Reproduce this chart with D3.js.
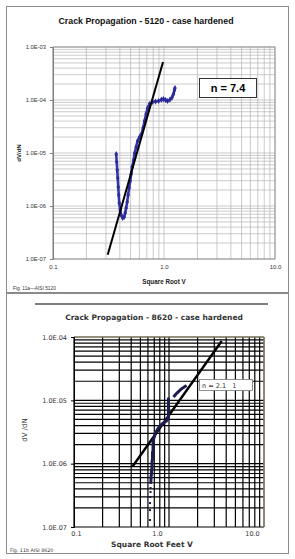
<!DOCTYPE html>
<html><head><meta charset="utf-8">
<script src="https://cdn.jsdelivr.net/npm/d3@7"></script>
<style>body{margin:0;background:#fff}svg{display:block}</style>
</head><body>
<svg id="c" width="295" height="559"></svg>
<script>
// ---------- data: top chart (AISI 5120) ----------
const topTitle = "Crack Propagation - 5120 - case hardened";
const topXLabel = "Square Root V";
const topYLabel = "dV/dN";
const topCaption = "Fig. 11a\u2014AISI 5120";
const topNote = "n = 7.4";
const topXTickValues = [0.1, 1, 10];
const topXTickLabels = ["0.1", "1.0", "10.0"];
const topYTickValues = [1e-7, 1e-6, 1e-5, 1e-4, 1e-3];
const topYTickLabels = ["1.0E-07", "1.0E-06", "1.0E-05", "1.0E-04", "1.0E-03"];
const topSeriesX = [0.371,0.375,0.379,0.383,0.387,0.391,0.395,0.403,0.411,0.424,0.438,0.447,0.456,0.466,0.475,0.485,0.496,0.506,0.516,0.533,0.544,0.561,0.578,0.603,0.628,0.648,0.668,0.690,0.711,0.741,0.789,0.839,0.893,0.950,0.990,1.032,1.075,1.132,1.180,1.217,1.242,1.255];
const topSeriesY = [9.57e-6,6.76e-6,4.78e-6,3.37e-6,2.28e-6,1.61e-6,1.14e-6,8.40e-7,6.76e-7,5.94e-7,6.20e-7,7.38e-7,9.17e-7,1.19e-6,1.61e-6,2.19e-6,2.96e-6,4.02e-6,5.44e-6,7.38e-6,1.0e-5,1.30e-5,1.68e-5,2.00e-5,2.28e-5,2.96e-5,4.02e-5,5.44e-5,7.06e-5,8.40e-5,9.17e-5,9.37e-5,9.57e-5,1.02e-4,1.04e-4,1.00e-4,9.57e-5,1.02e-4,1.11e-4,1.30e-4,1.54e-4,1.68e-4];
const topFitX = [0.311, 0.98];
const topFitY = [1.2e-7, 5.2e-4];

// ---------- data: bottom chart (AISI 8620) ----------
const botTitle = "Crack Propagation - 8620 - case hardened";
const botXLabel = "Square Root Feet V";
const botYLabel = "dV /dN";
const botCaption = "Fig. 11b AISI 8620";
const botNote = "n = 2.1   1";
const botXTickValues = [0.1, 1, 10];
const botXTickLabels = ["0.1", "1.0", "10.0"];
const botYTickValues = [1e-7, 1e-6, 1e-5, 1e-4];
const botYTickLabels = ["1.0E.07", "1.0E.06", "1.0E.05", "1.0E.04"];
const botSparseX = [0.631,0.631,0.631,0.636,0.639,0.639];
const botSparseY = [1.29e-7,1.85e-7,2.39e-7,2.98e-7,3.57e-7,4.13e-7];
const botMainX = [0.642,0.646,0.646,0.654,0.654,0.662,0.662,0.662,0.670,0.670,0.670,0.679,0.679,0.679,0.679,0.704,0.739,0.785,0.844,0.908,0.964,0.988,0.988,0.988,0.988,0.988,0.988];
const botMainY = [4.78e-7,5.52e-7,6.16e-7,6.87e-7,7.66e-7,8.54e-7,9.53e-7,1.063e-6,1.185e-6,1.32e-6,1.47e-6,1.64e-6,1.83e-6,2.04e-6,2.28e-6,2.73e-6,3.28e-6,3.79e-6,4.23e-6,4.55e-6,4.89e-6,5.46e-6,6.31e-6,7.30e-6,8.44e-6,9.76e-6,1.109e-5];
const botUpperX = [1.115,1.185,1.274,1.370,1.474,1.528];
const botUpperY = [1.13e-5,1.26e-5,1.40e-5,1.54e-5,1.65e-5,1.72e-5];
const botFitX = [0.413, 3.59];
const botFitY = [9.0e-7, 8.65e-5];

// ---------- drawing ----------
const svg = d3.select("#c");
svg.append("rect").attr("width",295).attr("height",559).attr("fill","#fff");

function minorValues(lo, hi) {
  const out = [];
  for (let e = Math.round(Math.log10(lo)); e < Math.round(Math.log10(hi)); e++)
    for (let m = 1; m <= 9; m++) out.push(m * Math.pow(10, e));
  out.push(hi);
  return out;
}
const zip = (a, b) => a.map((v, i) => [v, b[i]]);

// ===== TOP CHART =====
{
  const g = svg.append("g");
  g.append("rect").attr("x",6.5).attr("y",6.5).attr("width",282).attr("height",286)
    .attr("fill","#fff").attr("stroke","#8a8a8a").attr("stroke-width",1);
  const x = d3.scaleLog().domain([0.1, 10]).range([53, 275]);
  const y = d3.scaleLog().domain([1e-7, 1e-3]).range([259, 47]);
  const font = "Liberation Sans, Arial, sans-serif";

  g.append("text").attr("x",146).attr("y",24).attr("text-anchor","middle")
    .attr("font-family",font).attr("font-weight","bold").attr("font-size",8.8)
    .attr("fill","#111").text(topTitle);

  const grid = g.append("g").attr("stroke","#b4b4b4").attr("stroke-width",0.7);
  minorValues(0.1, 10).forEach(v => grid.append("line")
    .attr("x1",x(v)).attr("x2",x(v)).attr("y1",47).attr("y2",259));
  minorValues(1e-7, 1e-3).forEach(v => grid.append("line")
    .attr("y1",y(v)).attr("y2",y(v)).attr("x1",53).attr("x2",275));
  g.append("rect").attr("x",53).attr("y",47).attr("width",222).attr("height",212)
    .attr("fill","none").attr("stroke","#808080").attr("stroke-width",0.8);

  const ya = d3.axisLeft(y).tickValues(topYTickValues).tickSize(3)
    .tickFormat((d, i) => topYTickLabels[i]);
  const yg = g.append("g").attr("transform","translate(53,0)").call(ya);
  yg.select(".domain").attr("stroke","#808080");
  yg.selectAll(".tick line").attr("stroke","#808080");
  yg.selectAll("text").attr("font-family",font).attr("font-size",5.8).attr("fill","#333").attr("dx",-1);

  const xa = d3.axisBottom(x).tickValues(topXTickValues).tickSize(0)
    .tickFormat((d, i) => topXTickLabels[i]);
  const xg = g.append("g").attr("transform","translate(0,259)").call(xa);
  xg.select(".domain").remove();
  xg.selectAll("text").attr("font-family",font).attr("font-size",6).attr("fill","#333").attr("dy","1.1em");

  g.append("text").attr("x",164).attr("y",284).attr("text-anchor","middle")
    .attr("font-family",font).attr("font-weight","bold").attr("font-size",6.3)
    .attr("fill","#222").text(topXLabel);
  g.append("text").attr("transform","translate(21,153) rotate(-90)").attr("text-anchor","middle")
    .attr("font-family",font).attr("font-weight","bold").attr("font-size",6)
    .attr("fill","#222").text(topYLabel);
  g.append("text").attr("x",13).attr("y",290)
    .attr("font-family",font).attr("font-size",4.8).attr("fill","#333").text(topCaption);

  const line = d3.line().x(d => x(d[0])).y(d => y(d[1]));
  const pts = zip(topSeriesX, topSeriesY);
  g.append("path").attr("d", line(pts)).attr("fill","none")
    .attr("stroke","#3636ac").attr("stroke-width",2.6).attr("stroke-linejoin","round");
  g.selectAll(".tp").data(pts).enter().append("path")
    .attr("d", d3.symbol(d3.symbolDiamond, 11))
    .attr("transform", d => `translate(${x(d[0])},${y(d[1])})`)
    .attr("fill","#2c2c9c");
  g.append("path").attr("d", line(zip(topFitX, topFitY))).attr("fill","none")
    .attr("stroke","#000").attr("stroke-width",2);

  g.append("rect").attr("x",199.5).attr("y",78.5).attr("width",57).attr("height",19)
    .attr("fill","#fff").attr("stroke","#333").attr("stroke-width",1);
  g.append("text").attr("x",228).attr("y",92).attr("text-anchor","middle")
    .attr("font-family",font).attr("font-weight","bold").attr("font-size",11)
    .attr("fill","#000").text(topNote);
}

// ===== BOTTOM CHART =====
{
  const g = svg.append("g");
  g.append("rect").attr("x",6.5).attr("y",293.5).attr("width",282).attr("height",260)
    .attr("fill","#fff").attr("stroke","#8a8a8a").attr("stroke-width",1);
  g.append("line").attr("x1",35).attr("x2",268).attr("y1",304).attr("y2",304)
    .attr("stroke","#000").attr("stroke-width",1.2);
  const x = d3.scaleLog().domain([0.1, 10]).range([74, 264]);
  const y = d3.scaleLog().domain([1e-7, 1e-4]).range([527, 337]);
  const font = "DejaVu Sans, Verdana, sans-serif";

  g.append("text").attr("x",154).attr("y",320).attr("text-anchor","middle")
    .attr("font-family",font).attr("font-weight","bold").attr("font-size",7.5)
    .attr("fill","#333").text(botTitle);

  const grid = g.append("g").attr("stroke","#000").attr("stroke-width",1.2);
  minorValues(0.1, 10).forEach(v => grid.append("line")
    .attr("x1",x(v)).attr("x2",x(v)).attr("y1",337).attr("y2",527));
  minorValues(1e-7, 1e-4).forEach(v => grid.append("line")
    .attr("y1",y(v)).attr("y2",y(v)).attr("x1",74).attr("x2",264));
  g.append("line").attr("x1",74).attr("x2",264).attr("y1",337).attr("y2",337)
    .attr("stroke","#a89f78").attr("stroke-width",1.2);
  g.append("line").attr("x1",264).attr("x2",264).attr("y1",337).attr("y2",527)
    .attr("stroke","#a89f78").attr("stroke-width",1.2);

  const ya = d3.axisLeft(y).tickValues(botYTickValues).tickSize(3)
    .tickFormat((d, i) => botYTickLabels[i]);
  const yg = g.append("g").attr("transform","translate(74,0)").call(ya);
  yg.select(".domain").attr("stroke","#000");
  yg.selectAll(".tick line").attr("stroke","#000");
  yg.selectAll("text").attr("font-family",font).attr("font-size",6.5).attr("fill","#333").attr("dx",-1);

  const xa = d3.axisBottom(x).tickValues(botXTickValues).tickSize(0)
    .tickFormat((d, i) => botXTickLabels[i]);
  const xg = g.append("g").attr("transform","translate(0,527)").call(xa);
  xg.select(".domain").remove();
  // labels in the original sit a little left of their grid lines
  xg.selectAll("text").attr("font-family",font).attr("font-size",6.5).attr("fill","#333")
    .attr("dy","0.9em").attr("dx", (d, i) => i === 0 ? 2 : -12);

  g.append("text").attr("x",152).attr("y",547).attr("text-anchor","middle")
    .attr("font-family",font).attr("font-weight","bold").attr("font-size",7.5)
    .attr("fill","#333").text(botXLabel);
  g.append("text").attr("transform","translate(27,430) rotate(-90)").attr("text-anchor","middle")
    .attr("font-family",font).attr("font-size",7)
    .attr("fill","#333").text(botYLabel);
  g.append("text").attr("x",10).attr("y",552)
    .attr("font-family",font).attr("font-size",4.8).attr("fill","#333").text(botCaption);

  const line = d3.line().x(d => x(d[0])).y(d => y(d[1]));
  const col = "#1c1c50";
  g.append("path").attr("d", line(zip(botFitX, botFitY))).attr("fill","none")
    .attr("stroke","#000").attr("stroke-width",2.4);
  [zip(botMainX, botMainY), zip(botUpperX, botUpperY)].forEach(pts => {
    g.append("path").attr("d", line(pts)).attr("fill","none")
      .attr("stroke",col).attr("stroke-width",3).attr("stroke-linejoin","round");
  });
  g.selectAll(".bs").data(zip(botSparseX, botSparseY)).enter().append("rect")
    .attr("x", d => x(d[0]) - 1).attr("y", d => y(d[1]) - 1)
    .attr("width",2).attr("height",2).attr("fill",col);

  g.append("rect").attr("x",199.5).attr("y",379.5).attr("width",53).attr("height",11)
    .attr("fill","#fff").attr("stroke","#777").attr("stroke-width",0.8);
  g.append("text").attr("x",202).attr("y",388)
    .attr("font-family",font).attr("font-size",6.5).attr("fill","#333")
    .attr("xml:space","preserve").style("white-space","pre").text(botNote);
}
</script>
</body></html>
